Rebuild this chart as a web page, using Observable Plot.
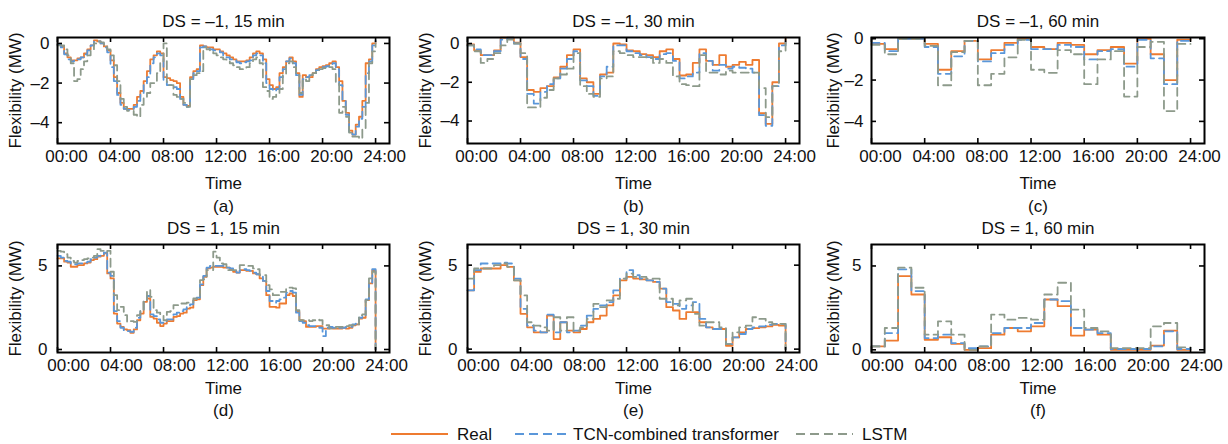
<!DOCTYPE html>
<html><head><meta charset="utf-8">
<script src="https://cdn.jsdelivr.net/npm/d3@7"></script>
<script src="https://cdn.jsdelivr.net/npm/@observablehq/plot@0.6"></script>
<style>
body{margin:0;background:#fff;}
#root{position:relative;width:1228px;height:444px;overflow:hidden;font-family:"Liberation Sans",Arial,sans-serif;}
.panel{position:absolute;}
.panel svg{overflow:visible;}
#legend{position:absolute;left:0;top:424px;}
</style></head><body><div id="root"></div>
<script>
// ---------- data ----------
const timeTicks = [0, 4, 8, 12, 16, 20, 24];
const timeTickLabels = ["00:00", "04:00", "08:00", "12:00", "16:00", "20:00", "24:00"];
const yTicksNeg = [0, -2, -4];
const yTicksPos = [0, 5];
const seriesNames = ["Real", "TCN-combined transformer", "LSTM"];
const seriesColors = ["#EE7B30", "#5A97DA", "#8D9A8B"];
const seriesDash = [null, "8,5", "8,5"];
const panelTitles = ["DS = –1, 15 min", "DS = –1, 30 min", "DS = –1, 60 min", "DS = 1, 15 min", "DS = 1, 30 min", "DS = 1, 60 min"];
const panelCaptions = ["(a)", "(b)", "(c)", "(d)", "(e)", "(f)"];

// (a) DS = -1, 15 min (96 steps + value at 24:00)
const realA = [-0.05,-0.15,-0.5,-0.7, -0.85,-0.85,-0.75,-0.7, -0.5,-0.3,-0.1,0.15, 0.1,0.0,-0.15,-0.35, -0.85,-1.7,-2.5,-3.0, -3.3,-3.3,-3.3,-3.1, -2.7,-2.4,-1.9,-1.4, -0.8,-0.6,-0.4,-0.5, -1.7,-1.75,-1.85,-1.9, -2.0,-2.7,-3.1,-3.15, -1.7,-1.4,-1.3,-0.1, -0.15,-0.2,-0.2,-0.3, -0.3,-0.4,-0.5,-0.6, -0.7,-0.8,-0.9,-0.9, -0.9,-0.85,-0.7,-0.5, -0.4,-0.5,-0.8,-1.8, -2.1,-2.3,-2.2,-1.5, -1.2,-0.9,-0.7,-0.9, -1.5,-2.7,-1.6,-1.7, -1.7,-1.5,-1.3,-1.2, -1.15,-1.1,-1.0,-0.9, -1.2,-1.9,-2.9,-3.5, -4.4,-4.6,-4.1,-3.7, -2.9,-1.0,-0.8,0.0, 0.1];
const tcnA = [-0.05,-0.2,-0.55,-0.8, -0.9,-0.8,-0.8,-0.7, -0.55,-0.35,-0.1,0.1, 0.1,0.0,-0.2,-0.45, -1.2,-1.9,-2.6,-3.1, -3.3,-3.35,-3.3,-3.2, -2.9,-2.5,-2.1,-1.7, -1.0,-0.7,-0.5,-0.6, -1.9,-2.1,-2.1,-2.2, -2.3,-2.8,-3.1,-3.2, -1.8,-1.5,-1.4,-0.2, -0.15,-0.25,-0.3,-0.35, -0.35,-0.45,-0.6,-0.7, -0.8,-0.85,-0.95,-1.0, -0.95,-0.9,-0.85,-0.6, -0.5,-0.6,-1.0,-2.0, -2.3,-2.4,-2.3,-1.7, -1.3,-0.9,-0.75,-1.0, -1.6,-2.6,-1.8,-1.7, -1.6,-1.5,-1.35,-1.25, -1.2,-1.15,-1.05,-1.0, -1.3,-2.1,-2.9,-3.6, -4.5,-4.6,-4.2,-3.8, -3.2,-1.5,-0.9,-0.1, 0.15];
const lstmA = [-0.1,-0.1,-0.3,-0.6, -1.0,-1.9,-1.8,-1.3, -0.9,-0.6,-0.3,0.0, 0.1,0.05,-0.1,-0.3, -0.6,-1.1,-1.9,-2.8, -3.2,-3.4,-3.4,-3.6, -3.7,-3.1,-2.7,-2.5, -2.0,-2.0,-1.5,-0.9, 0.0,-2.1,-2.1,-2.6, -2.7,-2.8,-3.0,-3.2, -1.8,-1.6,-1.5,-1.4, -0.2,-0.3,-0.4,-0.5, -0.6,-0.7,-0.8,-0.9, -1.0,-1.1,-1.2,-1.3, -1.3,-1.2,-1.0,-0.8, -0.7,-1.0,-2.2,-2.4, -2.8,-2.7,-2.5,-2.3, -1.6,-1.0,-0.9,-1.2, -1.6,-2.5,-1.8,-1.9, -1.6,-1.5,-1.4,-1.3, -1.25,-1.2,-1.2,-1.3, -2.0,-3.5,-3.2,-3.7, -4.5,-4.7,-4.7,-4.8, -4.3,-3.0,-1.0,-0.4, 0.0];

// (b) DS = -1, 30 min
const realB = [-0.05,-0.35,-0.6,-0.6,-0.35,0.3,0.3,0.05,-0.7,-2.4,-2.5,-2.3,-2.2,-1.75,-1.2,-0.6,-0.3,-1.8,-2.0,-2.6,-1.6,-1.5,0.0,-0.05, -0.35,-0.4,-0.55,-0.6,-0.7,-0.4,-0.3,-0.8,-1.65,-1.6,-1.0,-0.3,-0.9,-1.1,-0.6,-1.2,-1.1,-0.95,-1.1,-0.85,-3.6,-4.15,-2.0,0.0, 0.3];
const tcnB = [-0.1,-0.3,-0.6,-0.6,-0.4,0.2,0.3,0.0,-0.8,-2.6,-3.1,-2.5,-2.1,-1.8,-1.3,-0.8,-0.4,-1.9,-2.2,-2.7,-1.7,-1.2,-0.1,-0.1, -0.4,-0.5,-0.6,-0.7,-0.8,-0.55,-0.5,-0.9,-1.8,-1.7,-1.5,-0.5,-0.9,-1.4,-1.1,-1.3,-1.2,-1.25,-1.3,-1.5,-3.7,-4.25,-2.2,-0.1, 0.3];
const lstmB = [-0.1,-0.4,-1.0,-0.8,-0.5,-0.1,0.2,0.0,-0.5,-3.3,-3.3,-2.8,-2.4,-1.8,-1.6,-1.3,-0.5,-2.2,-2.6,-2.75,-1.8,-1.7,-0.4,-0.5, -0.6,-0.7,-0.7,-0.75,-1.0,-0.8,-1.0,-1.7,-2.1,-2.15,-2.2,-0.6,-1.5,-1.5,-1.6,-1.4,-1.5,-1.5,-1.5,-1.5,-2.3,-3.8,-2.2,-0.4, 0.3];

// (c) DS = -1, 60 min
const realC = [-0.25,-0.5,0,0,-0.25,-1.5,-0.6,-0.1,-1.0,-0.55,-0.2,0.0,-0.4,-0.5,-0.2,-0.3,-0.75,-0.55,-0.4,-1.2,0.0,-0.75,-2.0,-0.05, -0.05];
const tcnC = [-0.2,-0.6,0,0,-0.4,-1.7,-0.85,-0.1,-1.1,-0.7,-0.3,-0.05,-0.5,-0.5,-0.3,-0.4,-1.0,-0.6,-0.5,-1.35,-0.05,-0.95,-2.2,-0.1, -0.1];
const lstmC = [-0.3,-0.75,0,0,-0.35,-2.25,-0.65,-0.1,-2.25,-1.7,-0.9,-0.05,-1.5,-1.65,-0.55,-0.75,-2.2,-1.0,-0.6,-2.8,-0.4,-0.15,-3.5,-0.25, -0.25];

// (d) DS = 1, 15 min
const realD = [5.45,5.45,5.25,5.2, 4.95,4.95,5.05,5.05, 5.15,5.2,5.35,5.4, 5.55,5.6,5.75,4.55, 4.25,2.15,1.55,1.35, 1.2,1.15,1.0,1.2, 1.75,2.15,2.85,3.05, 1.95,1.85,1.6,1.4, 1.55,1.7,1.7,1.95, 2.0,2.15,2.2,2.45, 2.5,2.95,3.0,3.85, 4.35,4.85,4.9,4.95, 4.95,4.95,4.9,4.9, 4.8,4.65,4.6,4.75, 4.75,4.7,4.7,4.55, 4.5,4.25,4.1,3.25, 2.55,2.55,2.5,2.75, 2.75,3.25,3.35,3.2, 2.25,1.75,1.7,1.35, 1.35,1.35,1.4,1.4, 1.25,1.25,1.3,1.25, 1.25,1.25,1.3,1.25, 1.3,1.45,1.5,1.85, 1.9,2.95,3.95,4.75, 0];
const tcnD = [5.6,5.5,5.3,5.25, 5.1,5.1,5.15,5.15, 5.2,5.25,5.4,5.5, 5.6,5.7,5.8,4.6, 4.4,2.3,1.7,1.3, 1.15,1.1,1.05,1.3, 1.9,2.3,2.9,3.2, 2.1,2.0,1.8,1.6, 1.7,1.8,1.8,2.1, 2.2,2.3,2.4,2.6, 2.7,3.0,3.1,3.9, 4.4,4.9,5.0,5.0, 5.0,5.0,5.0,4.9, 4.85,4.7,4.6,4.75, 4.8,4.75,4.7,4.6, 4.5,4.35,4.1,3.5, 2.9,2.8,2.9,3.0, 3.1,3.4,3.5,3.4, 2.2,1.7,1.6,1.45, 1.4,1.4,1.4,1.3, 0.8,1.3,1.35,1.3, 1.3,1.3,1.3,1.35, 1.35,1.5,1.55,1.9, 2.0,3.0,4.0,4.8, 0];
const lstmD = [5.9,5.85,5.7,5.5, 5.3,5.2,5.3,5.35, 5.4,5.45,5.5,5.6, 6.0,5.9,5.8,5.9, 4.65,3.25,2.35,2.55, 2.05,1.65,1.7,1.65, 2.05,2.3,2.95,3.55, 3.15,2.35,2.2,2.1, 1.75,2.25,2.3,2.65, 2.65,2.75,2.75,2.8, 2.8,3.05,3.05,4.15, 4.2,4.75,4.75,5.85, 5.5,5.15,5.1,4.75, 4.75,4.75,4.75,5.05, 5.05,5.0,5.0,4.85, 4.8,4.45,4.45,3.85, 3.6,3.25,3.25,3.45, 3.45,3.65,3.7,3.65, 2.35,1.75,1.75,1.75, 1.7,1.75,1.8,1.75, 1.45,1.45,1.25,1.25, 1.35,1.35,1.35,1.4, 1.45,1.45,1.5,2.05, 2.1,2.95,4.25,4.65, 0];

// (e) DS = 1, 30 min
const realE = [3.5,4.6,4.8,4.8,4.8,5.0,4.9,4.1,2.1,1.3,1.0,1.0,2.0,0.6,1.6,1.1,1.0,1.2,1.6,1.8,2.0,2.6,3.2,4.1, 4.3,4.2,4.15,4.1,4.0,3.6,2.5,2.3,1.8,2.2,2.2,1.6,1.3,1.2,1.2,0.2,0.7,1.0,1.2,1.25,1.3,1.35,1.45,1.4, 0];
const tcnE = [3.5,4.7,5.1,5.1,5.1,5.15,5.1,4.2,2.4,1.4,1.1,1.0,2.05,1.0,1.6,1.0,1.1,1.4,2.0,2.4,2.6,2.8,3.5,4.2, 4.7,4.4,4.2,4.1,4.0,3.6,2.8,2.7,2.4,2.6,2.8,1.8,1.3,1.2,1.2,0.3,0.7,0.9,1.2,1.3,1.35,1.45,1.5,1.5, 0];
const lstmE = [4.2,4.8,4.8,4.8,5.0,5.1,4.9,4.1,3.2,1.6,1.4,1.3,1.1,1.9,1.1,1.9,1.1,1.3,1.8,2.7,2.5,2.9,3.0,4.2, 4.5,4.3,4.3,4.2,4.2,3.0,3.0,2.6,2.9,3.0,2.1,1.4,1.6,1.6,1.3,0.3,1.0,1.3,1.4,1.9,1.8,1.6,1.5,1.5, 0];

// (f) DS = 1, 60 min
const realF = [0.2,0.55,4.4,3.3,0.6,0.75,0.35,0.0,0.1,0.9,1.3,1.1,1.4,3.0,2.6,0.85,1.2,0.9,0.0,0.0,0.0,0.25,1.15,0.0, 0.0];
const tcnF = [0.2,1.0,4.8,3.5,0.7,0.9,0.4,0.1,0.2,1.0,1.3,1.3,1.6,3.0,2.9,1.3,1.2,1.0,0.05,0.05,0.05,0.2,1.1,0.05, 0.05];
const lstmF = [0.2,1.3,4.9,3.7,0.9,1.7,0.9,0.0,0.2,2.1,1.8,1.9,1.8,3.3,4.0,2.4,1.3,1.1,0.1,0.1,0.1,1.4,1.6,0.15, 0.15];

// ---------- layout ----------
const panels = [
  {series: [realA, tcnA, lstmA], yDomain: [-5.05, 0.3], yTicks: yTicksNeg, row: 0, left: 0, ml: 57, fw: 332},
  {series: [realB, tcnB, lstmB], yDomain: [-5.16, 0.31], yTicks: yTicksNeg, row: 0, left: 410, ml: 57, fw: 332},
  {series: [realC, tcnC, lstmC], yDomain: [-5.07, 0.06], yTicks: yTicksNeg, row: 0, left: 818, ml: 53, fw: 333},
  {series: [realD, tcnD, lstmD], yDomain: [-0.18, 6.28], yTicks: yTicksPos, row: 1, left: 0, ml: 57, fw: 332},
  {series: [realE, tcnE, lstmE], yDomain: [-0.2, 6.23], yTicks: yTicksPos, row: 1, left: 410, ml: 57, fw: 332},
  {series: [realF, tcnF, lstmF], yDomain: [-0.16, 6.28], yTicks: yTicksPos, row: 1, left: 818, ml: 53, fw: 333}
];
const rows = [
  {top: 0, H: 220, fh: 106, tickPad: 6, yPad: 8, labelDx: 9, timeDy: 40, capDy: 63},
  {top: 207, H: 215, fh: 108, tickPad: 6, yPad: 10, labelDx: 11, timeDy: 36, capDy: 58}
];
const FONT = "Liberation Sans, Arial, Helvetica, sans-serif";
const fmtTime = d => timeTickLabels[timeTicks.indexOf(d)];
const fmtY = d => d < 0 ? "–" + (-d) : String(d);
const root = document.getElementById("root");

panels.forEach((p, pi) => {
  const r = rows[p.row];
  const W = 410, mt = 37;
  const mb = r.H - mt - r.fh;
  const mr = W - p.ml - p.fw;
  const marks = [];
  p.series.forEach((arr, k) => {
    const step = 24 / (arr.length - 1);
    const data = arr.map((v, i) => ({t: i * step, v}));
    marks.push(Plot.line(data, {x: "t", y: "v", curve: "step-after", stroke: seriesColors[k], strokeWidth: 1.8, strokeDasharray: seriesDash[k]}));
  });
  const tl = 5;
  const txt = {fontSize: 17, fill: "#111", lineAnchor: "middle", textAnchor: "middle", text: d => d};
  marks.push(
    Plot.tickX(timeTicks, {x: d => d, insetTop: r.fh - tl, stroke: "black", strokeWidth: 1.6}),
    Plot.tickX(timeTicks, {x: d => d, insetBottom: r.fh - tl, stroke: "black", strokeWidth: 1.6}),
    Plot.tickY(p.yTicks, {y: d => d, insetRight: p.fw - tl, stroke: "black", strokeWidth: 1.6}),
    Plot.tickY(p.yTicks, {y: d => d, insetLeft: p.fw - tl, stroke: "black", strokeWidth: 1.6}),
    Plot.frame({stroke: "black", strokeWidth: 2}),
    Plot.axisX(timeTicks, {tickSize: 0, tickPadding: r.tickPad, dx: r.labelDx, tickFormat: fmtTime, label: null, fontSize: 17, fill: "#111"}),
    Plot.axisY(p.yTicks, {tickSize: 0, tickPadding: r.yPad, tickFormat: fmtY, label: null, fontSize: 17, fill: "#111"}),
    Plot.text([panelTitles[pi]], {...txt, frameAnchor: "top", dy: -16}),
    Plot.text(["Time"], {...txt, frameAnchor: "bottom", dy: r.timeDy}),
    Plot.text([panelCaptions[pi]], {...txt, frameAnchor: "bottom", dy: r.capDy}),
    Plot.text(["Flexibility (MW)"], {...txt, frameAnchor: "left", dx: -(p.ml - 15), rotate: -90})
  );
  const chart = Plot.plot({
    width: W, height: r.H,
    marginTop: mt, marginBottom: mb, marginLeft: p.ml, marginRight: mr,
    x: {domain: [0, 25.05]},
    y: {domain: p.yDomain},
    style: {fontFamily: FONT, fontSize: "17px", background: "transparent", overflow: "visible"},
    marks
  });
  const div = document.createElement("div");
  div.className = "panel";
  div.style.left = p.left + "px";
  div.style.top = r.top + "px";
  div.appendChild(chart);
  root.appendChild(div);
});

// ---------- legend ----------
const legendPos = [{x1: 391, x2: 448, tx: 457}, {x1: 515, x2: 567, tx: 573}, {x1: 796, x2: 853, tx: 862}];
const lg = d3.select(root).append("svg").attr("id", "legend").attr("width", 1228).attr("height", 20);
seriesNames.forEach((name, k) => {
  const p = legendPos[k];
  lg.append("line").attr("x1", p.x1).attr("x2", p.x2).attr("y1", 10).attr("y2", 10)
    .attr("stroke", seriesColors[k]).attr("stroke-width", 2)
    .attr("stroke-dasharray", seriesDash[k] ? "9,5" : null);
  lg.append("text").attr("x", p.tx).attr("y", 10).attr("dy", "0.35em")
    .attr("font-family", FONT).attr("font-size", 17).attr("fill", "#111").text(name);
});
</script>
</body></html>
